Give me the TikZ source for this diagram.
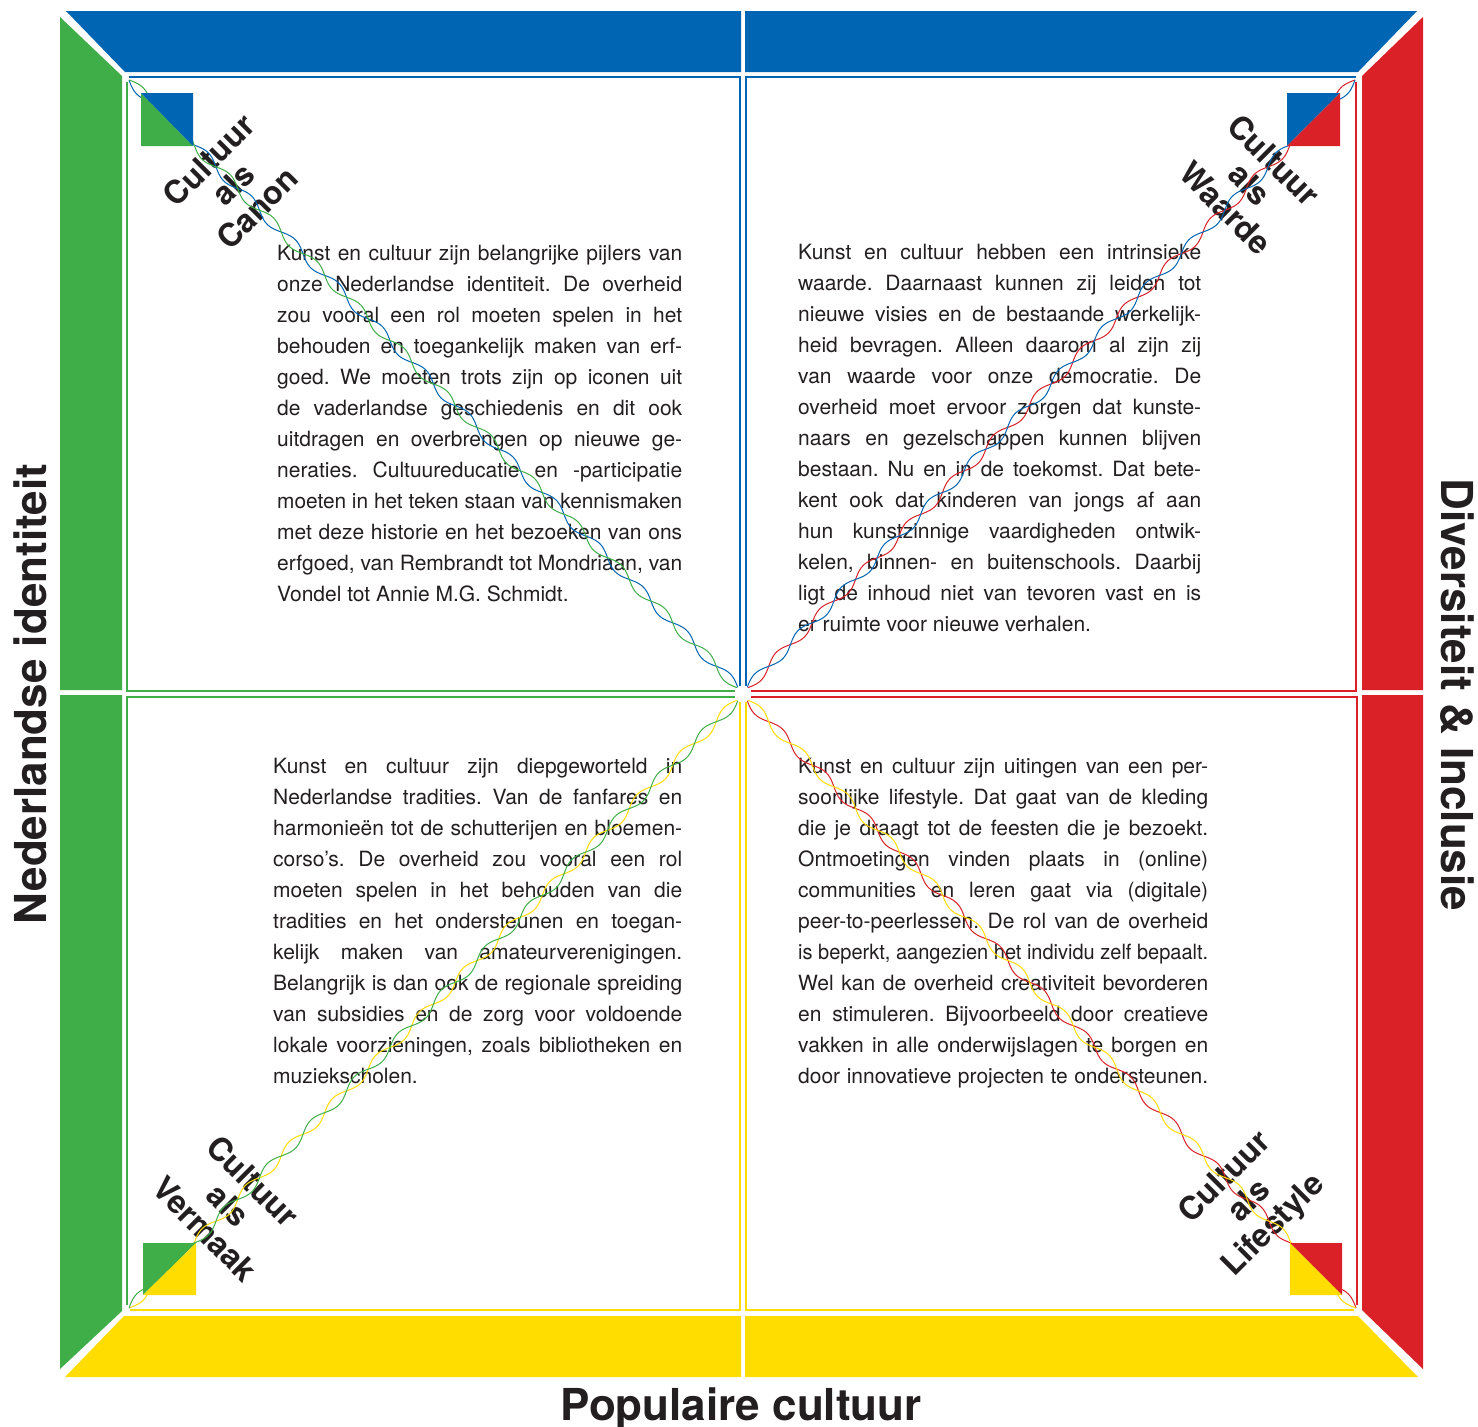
\documentclass[tikz,border=0pt]{standalone}
\usepackage{fontspec}
\setmainfont{TeX Gyre Heros}
\usepackage{graphicx}
\frenchspacing
\definecolor{cblue}{RGB}{0,102,179}
\definecolor{cgreen}{RGB}{63,174,73}
\definecolor{cred}{RGB}{218,33,40}
\definecolor{cyellow}{RGB}{255,221,0}
\definecolor{ink}{RGB}{35,31,32}
\newlength\jlw
\newcommand\jline[2]{\settowidth\jlw{#2}\ifdim\jlw>#1\relax\resizebox{#1}{\height}{#2}\else\makebox[#1][s]{#2}\fi}
\newcommand\lline[2]{\makebox[#1][l]{#2}}
\def\hxK{28}
\newcommand\helix[6]{%
  \pgfmathsetmacro\hxL{veclen(#3-#1,#4-#2)}%
  \pgfmathsetmacro\hxNx{-4.5*(#4-#2)/\hxL}%
  \pgfmathsetmacro\hxNy{4.5*(#3-#1)/\hxL}%
  \draw[wave,#5] plot[domain=0:1,samples=700,variable=\t] ({#1+\t*(#3-#1)+\hxNx*sin(\t*\hxK*180)},{#2+\t*(#4-#2)+\hxNy*sin(\t*\hxK*180)});
  \draw[wave,#6] plot[domain=0:1,samples=700,variable=\t] ({#1+\t*(#3-#1)-\hxNx*sin(\t*\hxK*180)},{#2+\t*(#4-#2)-\hxNy*sin(\t*\hxK*180)});
}
\tikzset{
  wave/.style={line width=1pt},
  boxline/.style={line width=1.1pt},
  body/.style={inner sep=0pt, text=ink, anchor=base west},
  lab/.style={inner sep=0pt, text=ink, align=center, font=\fontsize{32}{34}\selectfont\bfseries},
  title/.style={inner sep=0pt, text=ink, anchor=base, font=\fontsize{44}{44}\selectfont\bfseries},
}
\begin{document}
\begin{tikzpicture}[x=1pt,y=-1pt]
\fill[white] (0,0) rectangle (1478,1427);
\useasboundingbox (0,0) rectangle (1478,1427);
% outer frame
\fill[cblue] (66,11) -- (741,11) -- (741,72) -- (125,72) -- cycle;
\fill[cblue] (745,11) -- (1417,11) -- (1358,72) -- (745,72) -- cycle;
\fill[cgreen] (60,17) -- (122,76) -- (122,690) -- (60,690) -- cycle;
\fill[cgreen] (60,695) -- (122,695) -- (122,1311) -- (60,1369) -- cycle;
\fill[cred] (1423,17) -- (1362,76) -- (1362,690) -- (1423,690) -- cycle;
\fill[cred] (1423,695) -- (1362,695) -- (1362,1310) -- (1423,1369) -- cycle;
\fill[cyellow] (124,1316) -- (741,1316) -- (741,1377) -- (65,1377) -- cycle;
\fill[cyellow] (745,1316) -- (1358,1316) -- (1418,1377) -- (745,1377) -- cycle;
% quadrant boxes
\draw[boxline,cblue] (740,686) -- (740,77) -- (129,77);
\draw[boxline,cgreen] (127,82) -- (127,691) -- (735,691);
\draw[boxline,cblue] (746,686) -- (746,77) -- (1356,77);
\draw[boxline,cred] (1356,82) -- (1356,691) -- (751,691);
\draw[boxline,cgreen] (735,697) -- (127,697) -- (127,1305);
\draw[boxline,cyellow] (740,702) -- (740,1310) -- (130,1310);
\draw[boxline,cred] (751,697) -- (1357,697) -- (1357,1305);
\draw[boxline,cyellow] (746,702) -- (746,1310) -- (1354,1310);
% body texts
\node[body] (ttl) at (277,260) {\parbox[t]{405pt}{\fontsize{21}{31}\selectfont
\jline{405pt}{Kunst en cultuur zijn belangrijke pijlers van}\\
\jline{405pt}{onze Nederlandse identiteit. De overheid}\\
\jline{405pt}{zou vooral een rol moeten spelen in het}\\
\jline{405pt}{behouden en toegankelijk maken van erf-}\\
\jline{405pt}{goed. We moeten trots zijn op iconen uit}\\
\jline{405pt}{de vaderlandse geschiedenis en dit ook}\\
\jline{405pt}{uitdragen en overbrengen op nieuwe ge-}\\
\jline{405pt}{neraties. Cultuureducatie en -participatie}\\
\jline{405pt}{moeten in het teken staan van kennismaken}\\
\jline{405pt}{met deze historie en het bezoeken van ons}\\
\jline{405pt}{erfgoed, van Rembrandt tot Mondriaan, van}\\
\lline{405pt}{Vondel tot Annie M.G. Schmidt.}}};
\node[body] (ttr) at (798,259) {\parbox[t]{403pt}{\fontsize{21}{31}\selectfont
\jline{403pt}{Kunst en cultuur hebben een intrinsieke}\\
\jline{403pt}{waarde. Daarnaast kunnen zij leiden tot}\\
\jline{403pt}{nieuwe visies en de bestaande werkelijk-}\\
\jline{403pt}{heid bevragen. Alleen daarom al zijn zij}\\
\jline{403pt}{van waarde voor onze democratie. De}\\
\jline{403pt}{overheid moet ervoor zorgen dat kunste-}\\
\jline{403pt}{naars en gezelschappen kunnen blijven}\\
\jline{403pt}{bestaan. Nu en in de toekomst. Dat bete-}\\
\jline{403pt}{kent ook dat kinderen van jongs af aan}\\
\jline{403pt}{hun kunstzinnige vaardigheden ontwik-}\\
\jline{403pt}{kelen, binnen- en buitenschools. Daarbij}\\
\jline{403pt}{ligt de inhoud niet van tevoren vast en is}\\
\lline{403pt}{er ruimte voor nieuwe verhalen.}}};
\node[body] (tbl) at (273,773) {\parbox[t]{409pt}{\fontsize{21}{31}\selectfont
\jline{409pt}{Kunst en cultuur zijn diepgeworteld in}\\
\jline{409pt}{Nederlandse tradities. Van de fanfares en}\\
\jline{409pt}{harmonieën tot de schutterijen en bloemen-}\\
\jline{409pt}{corso’s. De overheid zou vooral een rol}\\
\jline{409pt}{moeten spelen in het behouden van die}\\
\jline{409pt}{tradities en het ondersteunen en toegan-}\\
\jline{409pt}{kelijk maken van amateurverenigingen.}\\
\jline{409pt}{Belangrijk is dan ook de regionale spreiding}\\
\jline{409pt}{van subsidies en de zorg voor voldoende}\\
\jline{409pt}{lokale voorzieningen, zoals bibliotheken en}\\
\lline{409pt}{muziekscholen.}}};
\node[body] (tbr) at (798,773) {\parbox[t]{410pt}{\fontsize{21}{31}\selectfont
\jline{410pt}{Kunst en cultuur zijn uitingen van een per-}\\
\jline{410pt}{soonlijke lifestyle. Dat gaat van de kleding}\\
\jline{410pt}{die je draagt tot de feesten die je bezoekt.}\\
\jline{410pt}{Ontmoetingen vinden plaats in (online)}\\
\jline{410pt}{communities en leren gaat via (digitale)}\\
\jline{410pt}{peer-to-peerlessen. De rol van de overheid}\\
\jline{410pt}{is beperkt, aangezien het individu zelf bepaalt.}\\
\jline{410pt}{Wel kan de overheid creativiteit bevorderen}\\
\jline{410pt}{en stimuleren. Bijvoorbeeld door creatieve}\\
\jline{410pt}{vakken in alle onderwijslagen te borgen en}\\
\jline{410pt}{door innovatieve projecten te ondersteunen.}}};
% corner labels
\node[lab, rotate=45] (ltl) at (233,184) {Cultuur\\als\\Canon};
\node[lab, rotate=-45] (ltr) at (1250,184) {Cultuur\\als\\Waarde};
\node[lab, rotate=-45] (lbl) at (229,1205) {Cultuur\\als\\Vermaak};
\node[lab, rotate=45] (lbr) at (1250,1202) {Cultuur\\als\\Lifestyle};
% helices
\helix{129}{80}{738}{688}{cblue}{cgreen}
\helix{1355}{80}{747}{688}{cred}{cblue}
\helix{129}{1308}{738}{700}{cyellow}{cgreen}
\helix{1356}{1308}{747}{700}{cred}{cyellow}
% corner squares
\fill[cgreen] (141,93) -- (141,146) -- (193,146) -- cycle;
\fill[cblue] (141,93) -- (193,93) -- (193,146) -- cycle;
\fill[cblue] (1287,93) -- (1340,93) -- (1287,146) -- cycle;
\fill[cred] (1340,93) -- (1340,146) -- (1287,146) -- cycle;
\fill[cgreen] (143,1243) -- (196,1243) -- (143,1295) -- cycle;
\fill[cyellow] (196,1243) -- (196,1295) -- (143,1295) -- cycle;
\fill[cred] (1290,1243) -- (1342,1243) -- (1342,1295) -- cycle;
\fill[cyellow] (1290,1243) -- (1290,1295) -- (1342,1295) -- cycle;
% titles
\node[title, rotate=90] (tleft) at (46,694) {Nederlandse identiteit};
\node[title, rotate=-90] (tright) at (1441,695) {Diversiteit \& Inclusie};
\node[title] (tbottom) at (741,1420) {Populaire cultuur};
\end{tikzpicture}
\end{document}
